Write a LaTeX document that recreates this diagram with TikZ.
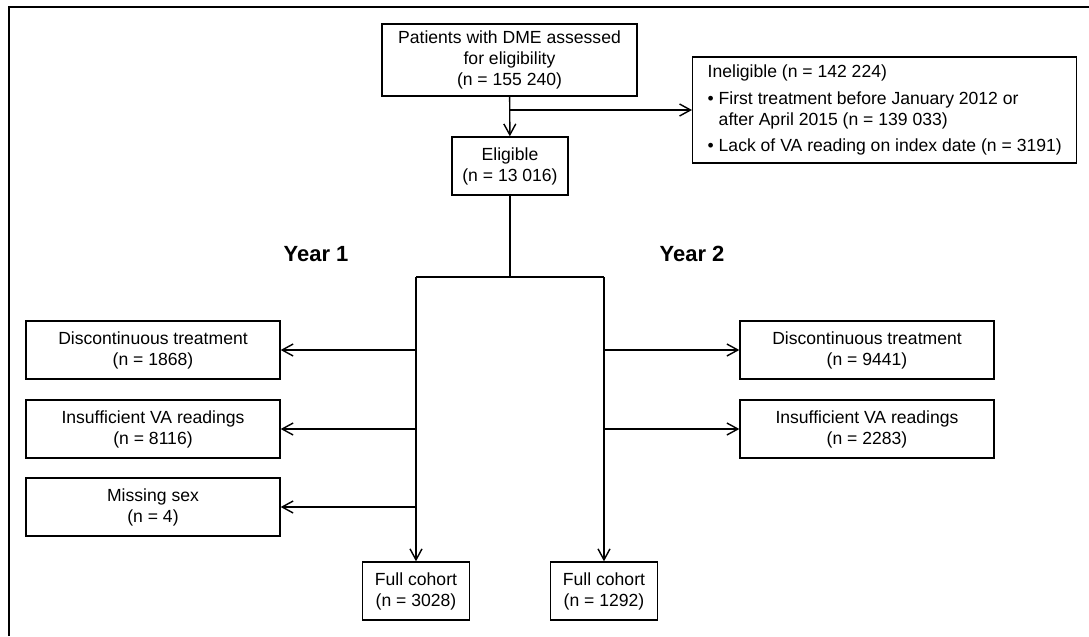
\documentclass[tikz,border=0pt]{standalone}
\usepackage{fontspec}
\setmainfont{Liberation Sans}
\usetikzlibrary{arrows.meta}
\begin{document}
\begin{tikzpicture}[x=0.02cm,y=-0.02cm,
  box/.style={draw,line width=0.8pt,align=center,inner sep=0pt,minimum height=1.16cm,font=\fontsize{10}{11.9}\selectfont},
  arr/.style={-{Straight Barb[length=2.2mm,width=2.4mm]},line width=0.8pt},
  year/.style={font=\fontsize{12.5}{15}\selectfont\bfseries}]
\useasboundingbox (0,0) rectangle (1089,636);
%frame
\draw[line width=1.2pt] (9,636) -- (9,7) -- (1089,7);
%top of the chart
\node[box,minimum width=5.1cm,minimum height=1.44cm] (assessed) at (509.5,60) {Patients with DME assessed\\for eligibility\\(n = 155 240)};
\node[box,anchor=west,minimum height=2.12cm,align=left,inner xsep=0.3cm,inner ysep=0pt] (inelig) at (692,110) {Ineligible (n = 142 224)\\[3pt]
\textbullet\ First treatment before January 2012 or\\
\hphantom{\textbullet\ }after April 2015 (n = 139 033)\\[3pt]
\textbullet\ Lack of VA reading on index date (n = 3191)};
\node[box,minimum width=2.32cm] (elig) at (510,166) {Eligible\\(n = 13 016)};
\node[year] (year1) at (316,254) {Year 1};
\node[year] (year2) at (692,254) {Year 2};
%year 1
\node[box,minimum width=5.08cm] (disc1) at (153,350) {Discontinuous treatment\\(n = 1868)};
\node[box,minimum width=5.08cm] (insuf1) at (153,429) {Insufficient VA readings\\(n = 8116)};
\node[box,minimum width=5.08cm] (sex1) at (153,507) {Missing sex\\(n = 4)};
\node[box,minimum width=2.14cm] (full1) at (416,591) {Full cohort\\(n = 3028)};
%year 2
\node[box,minimum width=5.08cm] (disc2) at (867,350) {Discontinuous treatment\\(n = 9441)};
\node[box,minimum width=5.08cm] (insuf2) at (867,429) {Insufficient VA readings\\(n = 2283)};
\node[box,minimum width=2.14cm] (full2) at (604,591) {Full cohort\\(n = 1292)};
%connectors
\coordinate (barL) at (416,277);
\coordinate (barR) at (604,277);
\draw[arr] (assessed) -- (elig);
\draw[arr] (assessed.south |- inelig.west) -- (inelig.west);
\draw[line width=0.8pt] (elig.south) -- (elig.south |- barL);
\draw[line width=0.8pt] (barL) -- (barR);
\draw[arr] (barL) -- (full1);
\draw[arr] (barR) -- (full2);
\draw[arr] (barL |- disc1.east) -- (disc1.east);
\draw[arr] (barL |- insuf1.east) -- (insuf1.east);
\draw[arr] (barL |- sex1.east) -- (sex1.east);
\draw[arr] (barR |- disc2.west) -- (disc2.west);
\draw[arr] (barR |- insuf2.west) -- (insuf2.west);
\end{tikzpicture}
\end{document}
